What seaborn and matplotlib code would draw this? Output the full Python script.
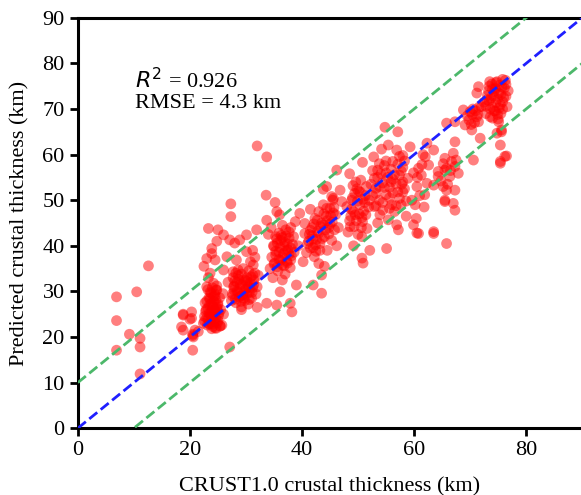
import numpy as np
import pandas as pd
import seaborn as sns
import matplotlib.pyplot as plt

# CRUST1.0 vs predicted crustal thickness (km)
x_low = [6.9, 6.9, 6.9, 9.2, 10.5, 11.1, 11.1, 11.1, 12.6,
         18.8, 18.5, 18.8, 20.3, 20.0, 20.9, 18.8, 20.5, 20.5, 20.5, 20.6, 20.3, 21.5]
y_low = [28.8, 23.6, 17.1, 20.6, 29.9, 19.7, 17.8, 11.9, 35.6,
         25.0, 22.2, 21.5, 25.5, 23.9, 21.5, 24.8, 20.6, 20.3, 17.1, 20.0, 24.1, 21.2]

x_23 = [22.4, 22.6, 22.9, 23.1, 23.3, 23.4, 23.5, 23.6, 23.7, 23.8, 23.9, 24.0, 24.1,
        24.2, 24.3, 24.4, 24.5, 24.6, 24.7, 24.8, 24.9, 25.0, 25.1, 25.3, 25.4, 25.5,
        25.7, 23.0, 23.6, 24.2, 24.8, 23.3, 25.9, 22.7, 23.9, 24.5, 26.0,
        23.3, 25.0, 26.0, 23.9, 23.0, 24.5, 23.9, 26.6, 26.0, 22.5, 24.8, 25.4, 27.1,
        22.6, 23.0, 23.4, 23.8, 24.2, 24.6, 25.0, 22.8, 23.2, 23.6, 24.0, 24.4, 24.8,
        25.2, 23.0, 23.4, 23.8, 24.2, 24.6, 25.0, 23.2, 23.6, 24.0, 24.4, 24.8, 23.5,
        24.1, 24.7]
y_23 = [23.0, 24.5, 26.0, 22.6, 24.0, 25.2, 27.0, 28.4, 23.3, 29.6, 25.8, 22.8, 24.4,
        26.6, 27.8, 23.5, 29.0, 25.4, 30.3, 26.2, 23.1, 27.4, 24.7, 28.6, 22.4, 26.0,
        22.6, 31.0, 34.0, 31.8, 30.3, 33.0, 29.5, 27.5, 21.8, 22.0, 25.0,
        43.8, 43.5, 42.4, 39.4, 37.2, 36.9, 38.3, 37.6, 34.7, 35.5, 41.0, 22.4, 17.8,
        23.5, 24.2, 23.0, 24.6, 23.8, 24.1, 23.6, 25.6, 26.3, 25.1, 26.8, 25.9, 26.5,
        25.3, 27.9, 28.6, 27.4, 28.9, 28.1, 27.0, 30.4, 29.8, 30.8, 29.5, 31.2, 22.8,
        22.3, 21.9]

x_29 = [27.4, 27.6, 27.8, 28.0, 28.2, 28.4, 28.6, 28.8, 29.0, 29.2, 29.4, 29.6, 29.8,
        30.0, 30.2, 30.4, 30.6, 30.8, 31.0, 31.2, 31.4, 31.6, 31.8, 31.3, 31.6, 31.2,
        30.8, 27.7, 28.6, 30.1, 28.3, 27.1, 28.9, 28.0, 30.1, 31.9, 27.3, 27.3, 29.5,
        32.0, 32.2, 27.9, 29.1, 30.5, 26.8, 33.7, 32.0, 29.2,
        32.0, 33.7, 33.6, 35.2,
        27.6, 28.1, 28.6, 29.1, 29.6, 30.1, 30.6, 31.1, 27.9, 28.4, 28.9, 29.4, 29.9,
        30.4, 30.9, 31.4, 27.7, 28.2, 28.7, 29.2, 29.7, 30.2, 30.7, 31.2]
y_29 = [28.0, 29.5, 31.0, 32.3, 27.5, 30.0, 33.5, 28.8, 31.5, 26.6, 29.2, 32.6, 28.0,
        30.5, 33.0, 27.2, 29.8, 31.9, 28.5, 30.8, 32.5, 34.0, 29.4, 35.8, 37.5, 39.0,
        36.5, 34.3, 34.7, 38.7, 36.9, 41.3, 41.3, 40.6, 42.4, 43.5, 49.2, 46.4, 35.0,
        31.0, 33.5, 30.2, 27.8, 34.5, 32.0, 27.4, 26.5, 26.0,
        61.9, 59.5, 51.1, 49.5,
        29.0, 28.3, 29.8, 29.0, 28.5, 29.4, 28.2, 29.8, 31.2, 32.0, 30.6, 31.5, 32.4,
        31.0, 33.2, 31.5, 33.0, 34.0, 32.6, 33.8, 30.2, 32.2, 30.8, 33.6]

x_36 = [34.3, 34.6, 34.9, 35.1, 35.3, 35.5, 35.7, 35.9, 36.1, 36.3, 36.5, 36.7, 36.9,
        37.1, 37.3, 37.5, 37.7, 37.9, 38.1, 38.3, 38.5, 38.8, 35.5, 36.0, 33.7, 34.0,
        34.5, 36.5, 38.0, 39.0, 37.9, 38.2, 36.1, 35.5, 36.5, 34.8, 38.6, 37.0, 39.3,
        35.0, 35.6, 36.2, 36.8, 37.4, 38.0, 35.3, 35.9, 36.5, 37.1, 37.7, 35.0, 35.6,
        36.2, 36.8, 37.4, 38.0, 35.3, 35.9, 36.5, 37.1, 37.7]
y_36 = [35.0, 37.5, 40.0, 36.2, 38.8, 41.5, 34.5, 37.0, 39.6, 42.3, 35.8, 38.3, 40.8,
        43.5, 36.6, 39.1, 41.7, 35.2, 37.8, 40.3, 42.0, 45.3, 47.5, 46.8, 45.6, 42.5,
        44.0, 44.5, 44.0, 31.4, 27.4, 25.5, 29.9, 27.0, 32.5, 33.0, 38.6, 33.8, 40.0,
        36.0, 35.4, 36.8, 35.6, 36.2, 36.9, 38.0, 38.6, 37.4, 38.9, 38.2, 39.9, 40.6,
        41.2, 40.0, 40.4, 39.5, 42.0, 42.8, 41.8, 42.2, 43.0]

x_44 = [40.8, 41.0, 41.3, 41.5, 41.8, 42.0, 42.3, 42.5, 42.8, 43.0, 43.2, 43.5, 43.8,
        44.0, 44.3, 44.5, 44.8, 45.0, 45.3, 45.5, 45.8, 46.0, 46.2, 42.2, 43.0, 43.5,
        43.5, 42.0, 39.6, 40.5, 40.5, 47.1, 45.6, 48.0, 44.4, 43.8, 45.3, 46.8, 46.2,
        48.5, 41.5, 44.0, 40.2, 46.5,
        41.2, 41.8, 42.4, 43.0, 43.6, 44.2, 44.8, 45.4, 41.5, 42.1, 42.7, 43.3, 43.9,
        44.5, 45.1, 45.7, 42.0, 42.6, 43.2, 43.8, 44.4, 45.0, 45.6]
y_44 = [38.5, 40.5, 42.5, 39.5, 44.0, 41.5, 46.0, 38.8, 43.2, 47.5, 40.5, 45.0, 49.0,
        42.0, 46.5, 39.0, 44.0, 48.2, 41.2, 50.0, 43.5, 46.8, 40.0, 37.6, 36.1, 33.6,
        29.6, 31.4, 47.1, 44.9, 42.7, 49.7, 50.4, 48.6, 53.0, 52.4, 50.8, 52.2, 56.6,
        55.8, 48.0, 35.5, 36.5, 44.0,
        41.0, 42.2, 40.2, 42.8, 41.6, 43.5, 42.6, 45.2, 43.4, 44.8, 45.6, 44.2, 47.0,
        45.5, 46.6, 48.4, 39.6, 41.4, 39.0, 44.6, 48.2, 44.8, 47.2]

x_50 = [48.2, 48.5, 48.8, 49.0, 49.3, 49.5, 49.8, 50.0, 50.3, 50.5, 50.8, 51.0, 51.3,
        51.6, 51.9, 48.6, 50.7, 50.9, 50.7, 52.1, 50.8, 49.2, 51.5,
        48.7, 49.2, 49.7, 50.2, 50.7, 51.2, 48.9, 49.4, 49.9, 50.4, 50.9, 51.4, 49.1,
        49.6, 50.1, 50.6]
y_50 = [43.0, 45.5, 48.0, 50.5, 44.2, 46.8, 52.5, 42.5, 49.0, 54.4, 45.3, 47.6, 51.0,
        43.8, 48.5, 44.2, 42.0, 36.2, 37.3, 39.0, 58.3, 40.0, 53.0,
        46.5, 47.5, 45.5, 47.0, 46.2, 49.5, 50.0, 51.5, 49.8, 51.8, 50.2, 46.8, 53.2,
        54.0, 52.0, 44.0]

x_56 = [52.0, 52.3, 52.6, 52.9, 53.2, 53.5, 53.8, 53.9, 54.2, 54.4, 54.7, 55.0, 55.4,
        55.4, 55.6, 55.9, 56.2, 56.5, 56.9, 56.9, 57.1, 57.4, 57.7, 58.0, 58.3, 58.6,
        58.9, 59.3, 59.6, 59.9, 54.8, 57.1, 55.1, 57.2, 59.9, 52.8, 58.0, 53.5, 56.0,
        57.8,
        52.6, 53.2, 53.8, 54.4, 55.0, 55.6, 56.2, 56.8, 57.4, 58.0, 58.6, 52.9, 53.5,
        54.1, 54.7, 55.3, 55.9, 56.5, 57.1, 57.7, 58.3, 53.2, 53.8, 54.4, 55.0, 55.6,
        56.2, 56.8, 57.4, 58.0]
y_56 = [50.0, 53.5, 56.5, 48.6, 51.5, 55.0, 58.0, 46.8, 61.2, 49.5, 52.8, 56.0, 62.1,
        45.7, 50.5, 54.0, 58.5, 47.5, 61.0, 44.6, 51.8, 55.5, 49.0, 57.2, 52.5, 46.5,
        54.8, 61.7, 50.0, 56.0, 66.0, 65.0, 39.4, 43.5, 44.6, 59.5, 59.8, 45.0, 49.0,
        53.5,
        51.0, 52.6, 50.0, 53.8, 51.2, 52.8, 51.6, 53.6, 50.4, 51.8, 49.8, 54.8, 56.6,
        55.8, 57.6, 55.0, 56.8, 55.6, 57.9, 56.4, 58.6, 48.8, 53.0, 47.8, 58.6, 48.2,
        54.6, 48.8, 59.6, 54.0]

x_64 = [60.2, 60.5, 60.8, 61.0, 61.3, 61.6, 62.3, 63.5, 62.6, 62.3, 61.8, 60.5, 60.8,
        63.5, 63.5, 63.5, 64.3, 60.4, 60.6, 61.4, 61.9, 62.0,
        64.3, 65.5, 65.8, 65.5, 65.8, 65.5, 67.0, 66.7, 65.8, 67.3, 67.9, 66.4, 65.2,
        67.3, 65.5, 67.0, 67.3, 65.8, 67.3, 67.3, 64.8, 65.2, 66.0, 66.5, 67.5]
y_64 = [49.0, 53.0, 57.0, 51.0, 55.5, 60.0, 62.5, 61.0, 57.7, 53.7, 48.5, 42.8, 42.7,
        42.7, 43.1, 53.3, 55.2, 46.0, 55.0, 57.8, 51.2, 59.5,
        56.3, 56.6, 52.2, 50.0, 40.5, 59.2, 60.3, 58.5, 57.0, 57.4, 55.9, 55.2, 53.0,
        52.2, 49.7, 49.3, 47.8, 66.9, 67.2, 62.8, 54.2, 58.0, 53.5, 56.5, 58.8]

x_74 = [68.8, 70.0, 71.2, 69.1, 70.3, 71.5, 71.8, 71.5, 71.2, 70.6, 69.5, 70.5, 72.0,
        72.5, 72.8, 69.8, 70.4, 71.0, 71.6, 70.2, 70.8, 71.4,
        73.0, 73.3, 73.6, 73.9, 74.2, 74.5, 74.8, 75.1, 75.4, 75.7, 76.0, 76.3, 76.6,
        74.0, 75.0, 73.6, 75.1, 75.6, 74.8, 75.4, 75.4, 76.2, 75.4, 76.5, 75.6, 73.5,
        76.8, 74.5, 75.8,
        72.8, 73.4, 74.0, 74.6, 75.2, 75.8, 76.4, 73.1, 73.7, 74.3, 74.9, 75.5, 76.1,
        73.4, 74.0, 74.6, 75.2, 75.8, 76.4, 74.3, 74.9, 75.5]
y_74 = [69.8, 69.4, 68.3, 66.5, 65.4, 67.2, 63.6, 74.9, 73.5, 58.8, 68.5, 70.0, 70.5,
        71.5, 69.0, 67.6, 68.8, 69.6, 70.4, 66.6, 67.0, 68.8,
        72.0, 74.0, 70.0, 75.5, 72.8, 69.5, 76.0, 73.5, 71.0, 74.8, 72.5, 76.3, 70.5,
        68.0, 67.8, 68.3, 67.2, 65.4, 64.7, 62.1, 58.5, 59.6, 58.1, 59.7, 65.0, 76.0,
        74.0, 74.5, 70.0,
        70.6, 71.8, 70.4, 71.4, 70.2, 71.6, 72.8, 73.0, 72.4, 73.8, 72.2, 73.2, 74.6,
        75.0, 74.4, 75.8, 75.2, 76.5, 75.4, 69.6, 68.8, 69.0]

r2 = 0.926
rmse = 4.3

df = pd.DataFrame({
    'crust1': x_low + x_23 + x_29 + x_36 + x_44 + x_50 + x_56 + x_64 + x_74,
    'pred': y_low + y_23 + y_29 + y_36 + y_44 + y_50 + y_56 + y_64 + y_74,
})

sns.set_style('ticks')
plt.rcParams['font.family'] = ['Liberation Serif', 'DejaVu Serif']
plt.rcParams['text.color'] = 'black'
plt.rcParams['axes.labelcolor'] = 'black'
plt.rcParams['axes.edgecolor'] = 'black'
plt.rcParams['xtick.color'] = 'black'
plt.rcParams['ytick.color'] = 'black'

fig = plt.figure(figsize=(5.81, 4.95), dpi=100)
ax = fig.add_axes([0.134, 0.135, 0.868, 0.829])

sns.scatterplot(data=df, x='crust1', y='pred', color='red', alpha=0.5,
                s=60, edgecolor='none', ax=ax, zorder=2)

line = np.array([0, 90])
ax.plot(line, line, '--', color='#1f1fff', lw=2, zorder=3)
ax.plot(line, line + 10, '--', color='#4cb86a', lw=2, zorder=3)
ax.plot(line, line - 10, '--', color='#4cb86a', lw=2, zorder=3)

ax.set_xlim(0, 90)
ax.set_ylim(0, 90)
ax.set_xticks([0, 20, 40, 60, 80])
ax.set_yticks(range(0, 91, 10))
ax.set_xlabel('CRUST1.0 crustal thickness (km)', fontsize=16, labelpad=12)
ax.set_ylabel('Predicted crustal thickness (km)', fontsize=16, labelpad=9)
ax.tick_params(labelsize=16, width=2, length=6, direction='out')
for sp in ax.spines.values():
    sp.set_linewidth(2.2)

ax.text(10.2, 76.3, r'$R^2$ = %.3f' % r2, fontsize=16, va='center')
ax.text(10.2, 71.3, 'RMSE = %.1f km' % rmse, fontsize=16, va='center')

plt.savefig('out.png', dpi=100)
